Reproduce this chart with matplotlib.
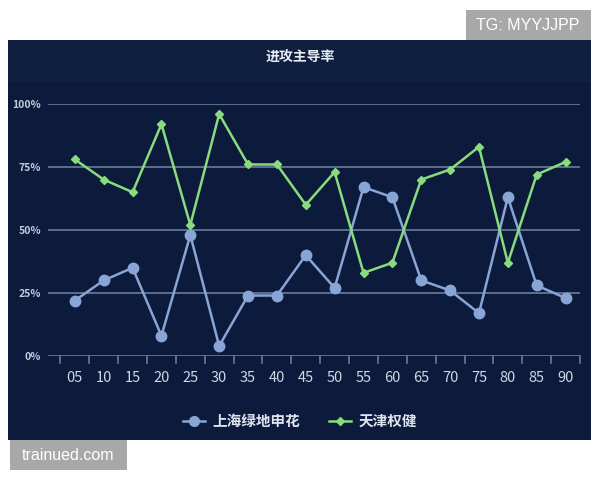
import matplotlib
matplotlib.use("Agg")
import matplotlib.pyplot as plt
from matplotlib.patches import Rectangle
from matplotlib.lines import Line2D

plt.rcParams['font.family'] = ['Noto Sans CJK SC', 'DejaVu Sans']

categories = ["05", "10", "15", "20", "25", "30", "35", "40", "45", "50",
              "55", "60", "65", "70", "75", "80", "85", "90"]
shenhua = [22, 30, 35, 8, 48, 4, 24, 24, 40, 27, 67, 63, 30, 26, 17, 63, 28, 23]
quanjian = [78, 70, 65, 92, 52, 96, 76, 76, 60, 73, 33, 37, 70, 74, 83, 37, 72, 77]
series_names = ["上海绿地申花", "天津权健"]
yticks = [0, 25, 50, 75, 100]
ytick_labels = ["0%", "25%", "50%", "75%", "100%"]
title = "进攻主导率"

W, H = 600, 480
fig = plt.figure(figsize=(6, 4.8), dpi=100, facecolor="white")

def fx(px):
    return px / W

def fy(py):
    return 1 - py / H

bg = "#0c1b3b"
fig.patches.append(Rectangle((fx(8), fy(440)), fx(591) - fx(8), fy(40) - fy(440),
                             transform=fig.transFigure, facecolor=bg, edgecolor="none", zorder=-2))
fig.patches.append(Rectangle((fx(8), fy(82)), fx(591) - fx(8), fy(40) - fy(82),
                             transform=fig.transFigure, facecolor="#0e1f40", edgecolor="none", zorder=-1))
fig.text(fx(300), fy(57), title, color="#e8ecf4", fontsize=10, fontweight="bold",
         ha="center", va="center")

ax = fig.add_axes([fx(48), fy(356), fx(580) - fx(48), fy(104) - fy(356)])
ax.set_zorder(5)
ax.set_facecolor("none")
ax.patch.set_alpha(0)
x = list(range(len(categories)))
ax.set_xlim(-0.93, 17.5)
ax.set_ylim(0, 100)
for s in ax.spines.values():
    s.set_visible(False)

grid_c = "#75849f"
for v in yticks:
    ax.axhline(v, color=grid_c, lw=1.1, zorder=1)

for b in [i - 0.5 for i in range(len(categories) + 1)]:
    ax.plot([b, b], [0, -2.6], color=grid_c, lw=1.1, clip_on=False, zorder=1)

ax.set_xticks(x)
ax.set_xticklabels(categories)
ax.tick_params(axis="x", length=0, pad=11, labelsize=10.5, labelcolor="#cfd6e4")
ax.set_yticks(yticks)
ax.set_yticklabels(ytick_labels)
ax.tick_params(axis="y", length=0, pad=5, labelsize=7.5, labelcolor="#c3cbda")
for lab in ax.get_yticklabels():
    lab.set_fontweight("bold")

blue = "#89a5d6"
green = "#88db7e"
ax.plot(x, shenhua, color=blue, lw=1.8, marker="o", ms=7.5, clip_on=False, zorder=3,
        label=series_names[0])
ax.plot(x, quanjian, color=green, lw=1.8, marker="D", ms=4.5, clip_on=False, zorder=3,
        label=series_names[1])

handles = [Line2D([], [], color=blue, lw=1.8, marker="o", ms=7),
           Line2D([], [], color=green, lw=1.8, marker="D", ms=4.5)]
leg = fig.legend(handles, series_names, loc="center", bbox_to_anchor=(fx(300), fy(421)),
                 ncol=2, frameon=False, fontsize=10.5, labelcolor="#dfe5ef",
                 handlelength=1.5, columnspacing=2.0, handletextpad=0.5,
                 prop={"weight": "bold", "size": 10.5})

fig.patches.append(Rectangle((fx(466), fy(40)), fx(591) - fx(466), fy(10) - fy(40),
                             transform=fig.transFigure, facecolor="#a8a8a8", edgecolor="none", zorder=2))
fig.text(fx(528), fy(25), "TG: MYYJJPP", color="white", fontsize=11.5,
         ha="center", va="center", family=["Liberation Sans", "DejaVu Sans"], zorder=3)
fig.patches.append(Rectangle((fx(10), fy(470)), fx(127) - fx(10), fy(440) - fy(470),
                             transform=fig.transFigure, facecolor="#a8a8a8", edgecolor="none", zorder=2))
fig.text(fx(68), fy(456), "trainued.com", color="white", fontsize=11.5,
         ha="center", va="center", family=["Liberation Sans", "DejaVu Sans"], zorder=3)

fig.savefig("out.png", dpi=100, facecolor="white")
